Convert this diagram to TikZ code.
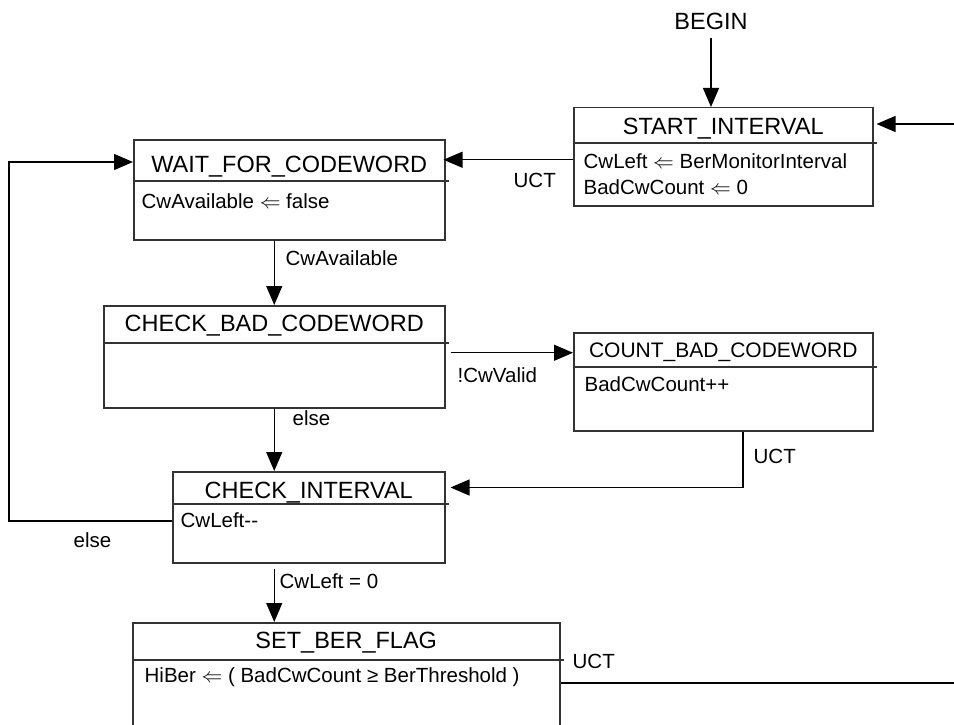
\documentclass[tikz,border=0pt]{standalone}
\usepackage{fontspec}
\setmainfont{Liberation Sans}
\usetikzlibrary{arrows.meta, calc}
\definecolor{boxGray}{gray}{0.2}

\begin{document}
\begin{tikzpicture}[x=1pt, y=-1pt, line width=1.3pt,
	every node/.style={inner sep=0pt},
	statebox/.style={draw=boxGray, line width=1.5pt, anchor=north west},
	divline/.style={draw=boxGray, line width=1.3pt},
	title/.style={font=\fontsize{23.5}{28}\selectfont, anchor=base},
	body/.style={font=\fontsize{20.5}{26}\selectfont, anchor=base west},
	lbl/.style={font=\fontsize{20.5}{24}\selectfont, anchor=base west},
	trans/.style={-{Triangle[length=19pt, width=16pt]}}]
	\useasboundingbox (0,0) rectangle (954,725);
	% states
	\node[statebox, minimum width=299pt, minimum height=98pt] (start) at (573,107) {};
	\node[statebox, minimum width=311pt, minimum height=100pt] (wait) at (133,139) {};
	\node[statebox, minimum width=341pt, minimum height=102pt] (cbad) at (103,305) {};
	\node[statebox, minimum width=299pt, minimum height=98pt] (count) at (573,332) {};
	\node[statebox, minimum width=272pt, minimum height=91pt] (cint) at (172,471) {};
	\node[statebox, minimum width=427pt, minimum height=120pt] (setber) at (132,622) {};
	% dividers
	\draw[divline] ($(start.north west)+(0,36)$) -- ($(start.north east)+(3,36)$);
	\draw[divline] ($(wait.north west)+(0,42)$) -- ($(wait.north east)+(3,42)$);
	\draw[divline] ($(cbad.north west)+(0,38)$) -- ($(cbad.north east)+(3,38)$);
	\draw[divline] ($(count.north west)+(0,35)$) -- ($(count.north east)+(3,35)$);
	\draw[divline] ($(cint.north west)+(0,33)$) -- ($(cint.north east)+(3,33)$);
	\draw[divline] ($(setber.north west)+(0,38)$) -- ($(setber.north east)+(3,38)$);
	% titles
	\node[title] (startT) at ($(start.north)+(0,27)$) {START\_INTERVAL};
	\node[title] (waitT) at ($(wait.north)+(0,33)$) {WAIT\_FOR\_CODEWORD};
	\node[title] (cbadT) at ($(cbad.north)+(0,26)$) {CHECK\_BAD\_CODEWORD};
	\node[title, font=\fontsize{21}{25}\selectfont] (countT) at ($(count.north)+(0,25)$) {COUNT\_BAD\_CODEWORD};
	\node[title] (cintT) at ($(cint.north)+(0,27)$) {CHECK\_INTERVAL};
	\node[title] (setberT) at ($(setber.north)+(0,26)$) {SET\_BER\_FLAG};
	% actions
	\node[body] (startA) at ($(start.north west)+(10,61)$) {CwLeft $\Leftarrow$ BerMonitorInterval};
	\node[body] (startB) at ($(start.north west)+(10,87)$) {BadCwCount $\Leftarrow$ 0};
	\node[body] (waitA) at ($(wait.north west)+(8,69)$) {CwAvailable $\Leftarrow$ false};
	\node[body] (countA) at ($(count.north west)+(11,59)$) {BadCwCount++};
	\node[body] (cintA) at ($(cint.north west)+(8,56)$) {CwLeft-{}-};
	\node[body] (setberA) at ($(setber.north west)+(12,60)$) {HiBer $\Leftarrow$ ( BadCwCount ≥ BerThreshold )};

	% transitions
	\node[title] (begin) at (711,30) {BEGIN};
	\draw[trans, shorten <=7pt] (begin.south) -- (begin.south |- start.north);

	\coordinate (inR) at (954,124);
	\draw[trans, shorten >=3pt] (inR) -- (inR -| start.east);

	\coordinate (uctA) at ($(start.west)+(0,3)$);
	\draw[trans, shorten >=-2pt] (uctA) -- (uctA -| wait.east);
	\node[lbl] (uctAL) at (513,187) {UCT};

	\draw[trans] (cbad.north |- wait.south) -- (cbad.north);
	\node[lbl] (cwAvL) at (285,265) {CwAvailable};

	\coordinate (badOut) at ($(cbad.east)+(5,-4)$);
	\draw[trans] (badOut) -- (badOut -| count.west);
	\node[lbl] (cwValL) at (457,382) {!CwValid};

	\draw[trans] (cbad.south) -- (cbad.south |- cint.north);
	\node[lbl] (elseA) at (292,425) {else};

	\coordinate (uctB) at ($(count.south west)+(170,56)$);
	\draw[trans, shorten >=5pt] (count.south -| uctB) -- (uctB) -- (uctB -| cint.east);
	\node[lbl] (uctBL) at (753,463) {UCT};

	\coordinate (loopB) at (9,521);
	\coordinate (loopT) at (9,162);
	\draw[trans] (cint.west |- loopB) -- (loopB) -- (loopT) -- (loopT -| wait.west);
	\node[lbl] (elseB) at (73,547) {else};

	\draw[trans] ($(cint.south -| cbad.south)+(0,5)$) -- (cbad.south |- setber.north);
	\node[lbl] (cwZeroL) at (279,588) {CwLeft = 0};

	\coordinate (outR) at (954,683);
	\draw (outR -| setber.east) -- (outR);
	\node[lbl] (uctCL) at (572,668) {UCT};

\end{tikzpicture}
\end{document}
